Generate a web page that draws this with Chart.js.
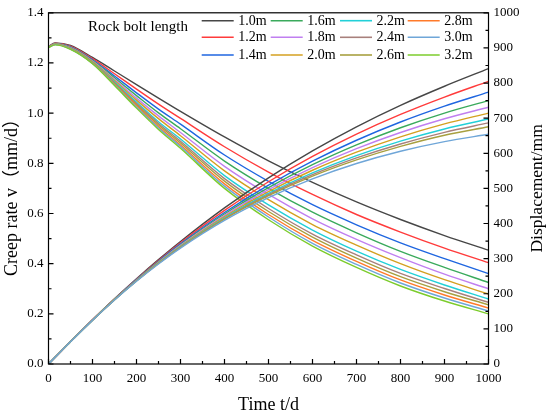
<!DOCTYPE html>
<html><head><meta charset="utf-8">
<script src="https://cdn.jsdelivr.net/npm/chart.js@4.4.0/dist/chart.umd.min.js"></script>
<style>html,body{margin:0;padding:0;background:#fff;}#wrap{width:550px;height:414px;position:relative;}</style>
</head><body><div id="wrap"><canvas id="c"></canvas></div>
<script>
// ---- data ----
const TIME = [0, 15, 50, 100, 150, 200, 250, 300, 400, 500, 600, 700, 800, 900, 1000];
const LENGTHS = ['1.0m','1.2m','1.4m','1.6m','1.8m','2.0m','2.2m','2.4m','2.6m','2.8m','3.0m','3.2m'];
const LEGEND_TITLE = 'Rock bolt length';
const X_TICKS = [0,100,200,300,400,500,600,700,800,900,1000];
const Y_TICKS = [0.0,0.2,0.4,0.6,0.8,1.0,1.2,1.4];
const Y2_TICKS = [0,100,200,300,400,500,600,700,800,900,1000];

// creep rate v (mm/d)
const CREEP_1_0 = [1.265, 1.280, 1.270, 1.222, 1.168, 1.114, 1.060, 1.007, 0.905, 0.810, 0.724, 0.646, 0.576, 0.512, 0.454];
const CREEP_1_2 = [1.265, 1.279, 1.267, 1.217, 1.157, 1.096, 1.036, 0.979, 0.866, 0.765, 0.676, 0.596, 0.526, 0.462, 0.404];
const CREEP_1_4 = [1.264, 1.278, 1.264, 1.213, 1.148, 1.081, 1.016, 0.956, 0.833, 0.728, 0.635, 0.555, 0.483, 0.420, 0.360];
const CREEP_1_6 = [1.264, 1.277, 1.262, 1.210, 1.141, 1.070, 1.001, 0.938, 0.809, 0.700, 0.605, 0.523, 0.449, 0.385, 0.325];
const CREEP_1_8 = [1.264, 1.276, 1.261, 1.208, 1.135, 1.060, 0.989, 0.923, 0.788, 0.676, 0.579, 0.497, 0.424, 0.358, 0.300];
const CREEP_2_0 = [1.263, 1.276, 1.260, 1.206, 1.130, 1.052, 0.978, 0.910, 0.770, 0.655, 0.556, 0.474, 0.400, 0.336, 0.279];
const CREEP_2_2 = [1.263, 1.275, 1.259, 1.203, 1.125, 1.044, 0.966, 0.897, 0.751, 0.634, 0.534, 0.450, 0.377, 0.315, 0.259];
const CREEP_2_4 = [1.263, 1.275, 1.258, 1.202, 1.121, 1.038, 0.959, 0.888, 0.739, 0.620, 0.518, 0.435, 0.361, 0.301, 0.246];
const CREEP_2_6 = [1.263, 1.274, 1.257, 1.201, 1.118, 1.033, 0.953, 0.881, 0.729, 0.608, 0.506, 0.422, 0.348, 0.288, 0.236];
const CREEP_2_8 = [1.262, 1.274, 1.256, 1.199, 1.115, 1.029, 0.946, 0.873, 0.718, 0.596, 0.493, 0.409, 0.335, 0.275, 0.223];
const CREEP_3_0 = [1.262, 1.273, 1.255, 1.198, 1.113, 1.024, 0.941, 0.867, 0.709, 0.586, 0.481, 0.397, 0.323, 0.263, 0.211];
const CREEP_3_2 = [1.262, 1.272, 1.254, 1.197, 1.110, 1.020, 0.935, 0.860, 0.700, 0.575, 0.470, 0.385, 0.311, 0.251, 0.200];

// displacement (mm)
const DISP_1_0 = [0, 19.1, 63.8, 126.1, 185.8, 242.8, 297.2, 348.9, 444.5, 530.2, 606.9, 675.4, 736.5, 790.9, 841.0];
const DISP_1_2 = [0, 19.1, 63.7, 125.8, 185.1, 241.4, 294.7, 345.2, 437.4, 518.9, 591.0, 654.6, 710.7, 760.1, 805.0];
const DISP_1_4 = [0, 19.1, 63.6, 125.5, 184.5, 240.2, 292.7, 342.0, 431.4, 509.4, 577.6, 637.1, 689.0, 734.2, 774.0];
const DISP_1_6 = [0, 19.1, 63.5, 125.3, 184.1, 239.3, 291.1, 339.6, 427.0, 502.3, 567.6, 623.9, 672.7, 714.5, 750.0];
const DISP_1_8 = [0, 19.1, 63.5, 125.2, 183.7, 238.6, 289.8, 337.7, 423.2, 496.4, 559.2, 613.0, 659.1, 698.2, 731.0];
const DISP_2_0 = [0, 19.0, 63.4, 125.0, 183.4, 237.9, 288.7, 335.9, 419.9, 491.1, 551.7, 603.1, 646.9, 683.7, 714.5];
const DISP_2_2 = [0, 19.0, 63.4, 124.9, 183.0, 237.2, 287.5, 334.1, 416.5, 485.7, 544.1, 593.3, 634.6, 669.2, 697.5];
const DISP_2_4 = [0, 19.0, 63.3, 124.8, 182.8, 236.8, 286.8, 332.9, 414.3, 482.2, 539.1, 586.7, 626.5, 659.6, 686.5];
const DISP_2_6 = [0, 19.0, 63.3, 124.7, 182.6, 236.4, 286.1, 332.0, 412.4, 479.2, 534.9, 581.2, 619.7, 651.5, 675.5];
const DISP_3_0 = [0, 19.0, 63.2, 124.6, 182.3, 235.7, 284.9, 330.1, 408.9, 473.6, 527.0, 570.8, 605.8, 633.3, 654.0];

const CREEP = [CREEP_1_0, CREEP_1_2, CREEP_1_4, CREEP_1_6, CREEP_1_8, CREEP_2_0, CREEP_2_2, CREEP_2_4, CREEP_2_6, CREEP_2_8, CREEP_3_0, CREEP_3_2];
const DISP = [DISP_1_0, DISP_1_2, DISP_1_4, DISP_1_6, DISP_1_8, DISP_2_0, DISP_2_2, DISP_2_4, DISP_2_6, null, DISP_3_0, null];

// ---- styles ----
const COLORS = ['#474747','#ff3b3b','#1f66e0','#3aaa5c','#c07ff0','#d4a020','#22d0d8','#a8807c','#a8a040','#ff7a2a','#6fa6d8','#7ccc2c'];
const SERIF = "'Liberation Serif', 'Times New Roman', 'Noto Sans CJK SC', serif";

const datasets = [];
LENGTHS.forEach((len, i) => {
  datasets.push({
    label: len, yAxisID: 'y',
    data: TIME.map((t, k) => ({x: t, y: CREEP[i][k]})),
    borderColor: COLORS[i], borderWidth: 1.4, pointRadius: 0, pointHoverRadius: 0,
    cubicInterpolationMode: 'monotone', fill: false, order: 100 - i, legendEntry: true
  });
});
LENGTHS.forEach((len, i) => {
  if (!DISP[i]) return;
  datasets.push({
    label: len + ' displacement', yAxisID: 'y2',
    data: TIME.map((t, k) => ({x: t, y: DISP[i][k]})),
    borderColor: COLORS[i], borderWidth: 1.4, pointRadius: 0, pointHoverRadius: 0,
    cubicInterpolationMode: 'monotone', fill: false, order: 50 - i, legendEntry: false
  });
});

const framePlugin = {
  id: 'frame',
  afterDraw(chart) {
    const {ctx, chartArea: a, scales: {x, y, y2}} = chart;
    ctx.save();
    ctx.strokeStyle = '#000'; ctx.lineWidth = 1.2;
    ctx.strokeRect(a.left, a.top, a.right - a.left, a.bottom - a.top);
    ctx.beginPath();
    for (let i = 0; i < X_TICKS.length; i++) {
      const px = x.getPixelForValue(X_TICKS[i]);
      ctx.moveTo(px, a.bottom); ctx.lineTo(px, a.bottom - 5);
      if (i < X_TICKS.length - 1) {
        const pm = x.getPixelForValue((X_TICKS[i] + X_TICKS[i + 1]) / 2);
        ctx.moveTo(pm, a.bottom); ctx.lineTo(pm, a.bottom - 3);
      }
    }
    for (let i = 0; i < Y_TICKS.length; i++) {
      const py = y.getPixelForValue(Y_TICKS[i]);
      ctx.moveTo(a.left, py); ctx.lineTo(a.left + 5, py);
      if (i < Y_TICKS.length - 1) {
        const pm = y.getPixelForValue((Y_TICKS[i] + Y_TICKS[i + 1]) / 2);
        ctx.moveTo(a.left, pm); ctx.lineTo(a.left + 3, pm);
      }
    }
    for (let i = 0; i < Y2_TICKS.length; i++) {
      const py = y2.getPixelForValue(Y2_TICKS[i]);
      ctx.moveTo(a.right, py); ctx.lineTo(a.right - 5, py);
      if (i < Y2_TICKS.length - 1) {
        const pm = y2.getPixelForValue((Y2_TICKS[i] + Y2_TICKS[i + 1]) / 2);
        ctx.moveTo(a.right, pm); ctx.lineTo(a.right - 3, pm);
      }
    }
    ctx.stroke();

    // axis titles
    ctx.fillStyle = '#000';
    ctx.textAlign = 'center'; ctx.textBaseline = 'middle';
    ctx.font = '18px ' + SERIF;
    ctx.fillText('Time t/d', (a.left + a.right) / 2, 405);
    const cy = (a.top + a.bottom) / 2;
    ctx.save(); ctx.translate(12, 110); ctx.rotate(-Math.PI / 2);
    ctx.textAlign = 'right';
    ctx.font = '18px ' + SERIF;
    ctx.fillText('Creep rate v（mm/d）', 0, 0); ctx.restore();
    ctx.save(); ctx.translate(537, cy); ctx.rotate(-Math.PI / 2);
    ctx.font = '17.5px ' + SERIF;
    ctx.fillText('Displacement/mm', 0, 0); ctx.restore();

    // legend
    ctx.textAlign = 'left';
    ctx.font = '15px ' + SERIF;
    ctx.fillText(LEGEND_TITLE, 88, 27);
    ctx.font = '14px ' + SERIF;
    const colX = [201.7, 270.7, 340, 407.7];
    const rowY = [20.7, 37.3, 55];
    const entries = chart.data.datasets.filter(d => d.legendEntry);
    entries.forEach((d, i) => {
      const cx = colX[Math.floor(i / 3)], ry = rowY[i % 3];
      ctx.strokeStyle = d.borderColor; ctx.lineWidth = 1.6;
      ctx.beginPath(); ctx.moveTo(cx, ry); ctx.lineTo(cx + 32, ry); ctx.stroke();
      ctx.fillText(d.label, cx + 36.5, ry + 0.5);
    });
    ctx.restore();
  }
};

new Chart(document.getElementById('c'), {
  type: 'line',
  data: {datasets},
  options: {
    responsive: true, maintainAspectRatio: false, animation: false,
    layout: {padding: {top: 9.3, left: 0, right: 0, bottom: 0}},
    plugins: {legend: {display: false}, tooltip: {enabled: false}},
    scales: {
      x: {
        type: 'linear', min: 0, max: 1000,
        grid: {display: false, drawTicks: false}, border: {display: false},
        afterBuildTicks(s) { s.ticks = X_TICKS.map(v => ({value: v})); },
        ticks: {color: '#000', font: {family: SERIF, size: 13}, padding: 7, maxRotation: 0, autoSkip: false, callback: v => String(v)},
        afterFit(s) { s.height = 50; }
      },
      y: {
        type: 'linear', position: 'left', min: 0, max: 1.4,
        grid: {display: false, drawTicks: false}, border: {display: false},
        afterBuildTicks(s) { s.ticks = Y_TICKS.map(v => ({value: v})); },
        ticks: {color: '#000', font: {family: SERIF, size: 13}, padding: 5, callback: v => Number(v).toFixed(1)},
        afterFit(s) { s.width = 48.5; }
      },
      y2: {
        type: 'linear', position: 'right', min: 0, max: 1000,
        grid: {display: false, drawTicks: false}, border: {display: false},
        afterBuildTicks(s) { s.ticks = Y2_TICKS.map(v => ({value: v})); },
        ticks: {color: '#000', font: {family: SERIF, size: 13}, padding: 5, callback: v => String(v)},
        afterFit(s) { s.width = 61.5; }
      }
    }
  },
  plugins: [framePlugin]
});
</script></body></html>
